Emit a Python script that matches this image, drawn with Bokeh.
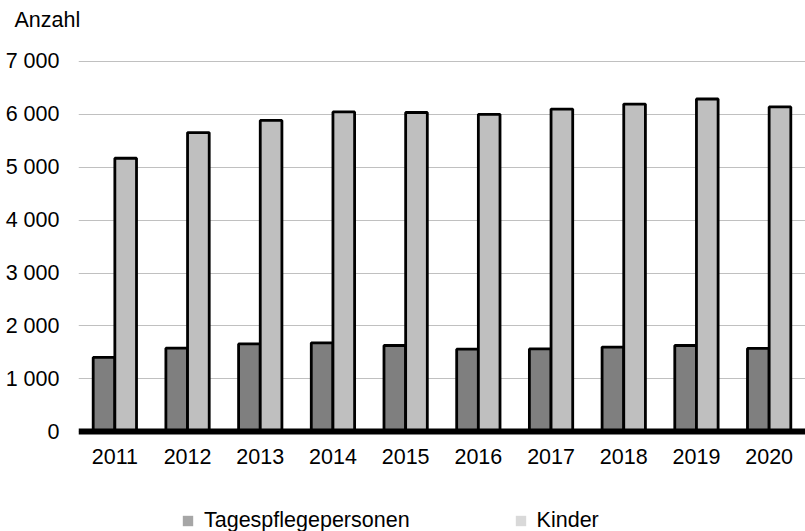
from bokeh.plotting import figure
from bokeh.models import FactorRange, Range1d, FixedTicker, Legend, LegendItem, ColumnDataSource
from bokeh.transform import dodge
from bokeh.embed import file_html
from bokeh.resources import INLINE

years = ["2011", "2012", "2013", "2014", "2015", "2016", "2017", "2018", "2019", "2020"]
tagespflegepersonen = [1405, 1580, 1660, 1680, 1630, 1560, 1565, 1600, 1630, 1575]
kinder = [5170, 5655, 5885, 6045, 6035, 6000, 6100, 6195, 6290, 6140]
series_names = ["Tagespflegepersonen", "Kinder"]
y_ticks = [0, 1000, 2000, 3000, 4000, 5000, 6000, 7000]
y_tick_labels = ["0", "1 000", "2 000", "3 000", "4 000", "5 000", "6 000", "7 000"]
y_title = "Anzahl"

FONT = "Liberation Sans"
FS = "21.5px"

W, H = 805, 531
FRAME_TOP, LEFT = 35, 78
TOP_TICK_PX = 60   # pixel row of the 7 000 gridline
AXIS_Y_PX = 431    # pixel row of the value axis baseline
y_top_tick = 7000
px_per_unit = (AXIS_Y_PX - TOP_TICK_PX) / y_top_tick
y_max = y_top_tick + (TOP_TICK_PX - FRAME_TOP) / px_per_unit
# frame extends to the bottom of the canvas so the legend can sit inside it
y_min = -(H - AXIS_Y_PX) / px_per_unit

src = ColumnDataSource(dict(year=years, t=tagespflegepersonen, k=kinder))

p = figure(width=W, height=H, x_range=FactorRange(*years), y_range=Range1d(y_min, y_max),
           output_backend="svg", toolbar_location=None,
           min_border_left=LEFT, min_border_right=0, min_border_top=FRAME_TOP, min_border_bottom=0,
           title=y_title)
p.outline_line_color = None
p.background_fill_color = "white"
p.border_fill_color = "white"

p.title.text_font = FONT
p.title.text_font_size = FS
p.title.text_font_style = "normal"
p.title.text_color = "#000000"
p.title.align = "left"
p.title.offset = -64
p.title.standoff = 10

p.xgrid.grid_line_color = None
p.ygrid.grid_line_color = "#c0c0c0"
p.ygrid.grid_line_width = 1.2
p.ygrid.ticker = FixedTicker(ticks=y_ticks)

bw = 0.298
p.vbar(x=dodge("year", -bw / 2, range=p.x_range), top="t", bottom=0, width=bw, source=src,
       fill_color="#7f7f7f", line_color="black", line_width=2.8)
p.vbar(x=dodge("year", bw / 2, range=p.x_range), top="k", bottom=0, width=bw, source=src,
       fill_color="#bfbfbf", line_color="black", line_width=2.8)

# legend swatches (renderers with a single undrawn NaN row, used only for the legend)
nan = float("nan")
swatch = ColumnDataSource(dict(l=[nan], r=[nan], b=[nan], t=[nan]))
r1 = p.quad(left="l", right="r", bottom="b", top="t", source=swatch,
            fill_color="#a6a6a6", line_color=None)
r2 = p.quad(left="l", right="r", bottom="b", top="t", source=swatch,
            fill_color="#d9d9d9", line_color=None)

legend = Legend(items=[LegendItem(label=series_names[0], renderers=[r1]),
                       LegendItem(label=series_names[1], renderers=[r2])],
                orientation="horizontal", location=(103, -2),
                glyph_width=13, glyph_height=13, label_standoff=10, spacing=104,
                padding=0, margin=0, border_line_color=None, background_fill_alpha=0,
                label_text_font=FONT, label_text_font_size=FS, label_text_color="#000000")
p.add_layout(legend, "center")

p.yaxis.ticker = FixedTicker(ticks=y_ticks)
p.yaxis.major_label_overrides = {v: s for v, s in zip(y_ticks, y_tick_labels)}
p.yaxis.axis_line_color = None
p.yaxis.major_tick_line_color = None
p.yaxis.minor_tick_line_color = None
p.yaxis.major_tick_out = 0
p.yaxis.major_tick_in = 0
p.yaxis.major_label_standoff = 19
p.yaxis.major_label_text_font = FONT
p.yaxis.major_label_text_font_size = FS
p.yaxis.major_label_text_color = "#000000"

p.xaxis.fixed_location = 0
p.xaxis.axis_line_color = "black"
p.xaxis.axis_line_width = 6
p.xaxis.major_tick_line_color = None
p.xaxis.major_tick_out = 0
p.xaxis.major_tick_in = 0
p.xaxis.major_label_standoff = 17
p.xaxis.major_label_text_font = FONT
p.xaxis.major_label_text_font_size = FS
p.xaxis.major_label_text_color = "#000000"

open("out.html", "w").write(file_html(p, INLINE))
